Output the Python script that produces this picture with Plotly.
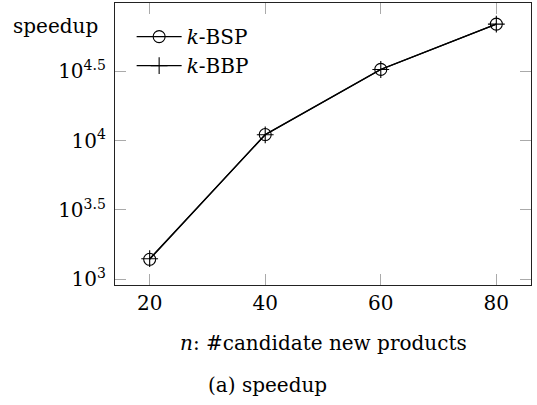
import plotly.graph_objects as go

# Number of candidate new products
n_values = [20, 40, 60, 80]
# Speedup of each method
bsp_speedup = [1396, 11040, 32510, 68870]
bbp_speedup = [1410, 11000, 32450, 68900]

y_tick_exps = ["3", "3.5", "4", "4.5"]
y_tick_vals = [10 ** float(e) for e in y_tick_exps]
y_tick_text = [f"10<sup>{e}</sup>" for e in y_tick_exps]
x_tick_vals = [20, 40, 60, 80]

FONT = "DejaVu Serif"

fig = go.Figure()
fig.add_trace(go.Scatter(
    x=n_values, y=bsp_speedup, name="<i>k</i>-BSP", mode="lines+markers",
    line=dict(color="black", width=1.3),
    marker=dict(symbol="circle-open", size=12, color="black", line=dict(width=1.1)),
))
fig.add_trace(go.Scatter(
    x=n_values, y=bbp_speedup, name="<i>k</i>-BBP", mode="lines+markers",
    line=dict(color="black", width=1.3),
    marker=dict(symbol="cross-thin-open", size=12, color="black", line=dict(width=1.1, color="black")),
))

axis_common = dict(
    showline=True, linecolor="#222", linewidth=1.3, mirror="ticks",
    ticks="inside", ticklen=11, tickcolor="#aaa", tickwidth=1.2,
    showgrid=False, zeroline=False,
    tickfont=dict(family=FONT, size=20, color="black"),
)

fig.update_xaxes(range=[14, 86], tickvals=x_tick_vals, **axis_common)
fig.update_yaxes(type="log", range=[2.96, 4.99], tickvals=y_tick_vals,
                 ticktext=y_tick_text, ticklabelstandoff=4, **axis_common)

fig.update_layout(
    width=537, height=405,
    margin=dict(l=115, r=6, t=3, b=120),
    paper_bgcolor="white", plot_bgcolor="white",
    font=dict(family=FONT, size=20, color="black"),
    showlegend=True,
    legend=dict(x=0.04, y=0.95, xanchor="left", yanchor="top",
                bgcolor="rgba(0,0,0,0)", itemwidth=45,
                font=dict(family=FONT, size=20), tracegroupgap=0),
    annotations=[
        dict(text="speedup", xref="paper", yref="paper", x=-0.25, y=0.92,
             xanchor="left", yanchor="middle", showarrow=False,
             font=dict(family=FONT, size=20)),
        dict(text="<i>n</i>: #candidate new products", xref="paper", yref="paper",
             x=0.5, y=-0.205, xanchor="center", yanchor="middle", showarrow=False,
             font=dict(family=FONT, size=20)),
        dict(text="(a) speedup", xref="paper", yref="paper",
             x=0.367, y=-0.355, xanchor="center", yanchor="middle",
             showarrow=False, font=dict(family=FONT, size=20)),
    ],
)

fig.write_html("out.html")
